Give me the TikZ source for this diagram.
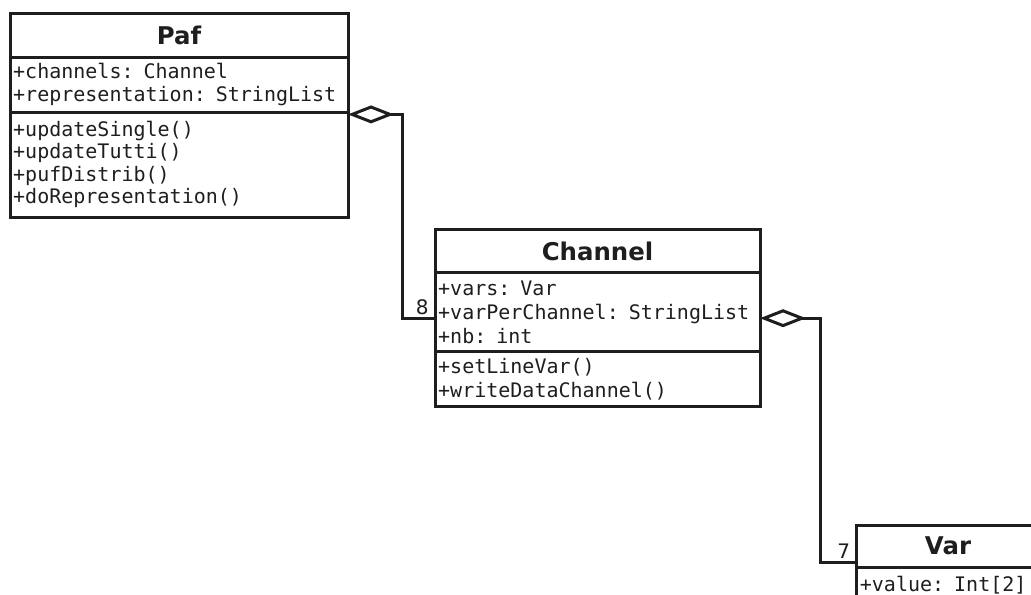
\documentclass[tikz,border=0pt]{standalone}
\usepackage{fontspec}
\usepackage{tikz}
\usetikzlibrary{arrows.meta,positioning}
\newfontfamily\umlsans{DejaVu Sans}
\newfontfamily\umlmono{DejaVu Sans Mono}
\definecolor{Ink}{HTML}{1E1E1E}

\begin{document}
\begin{tikzpicture}[x=0.5pt,y=-0.5pt,
  classhead/.style={draw=Ink,line width=1.5pt,outer sep=0pt,inner sep=0pt,text=Ink,font=\umlsans\bfseries\fontsize{12.2}{14}\selectfont},
  classbody/.style={draw=Ink,line width=1.5pt,outer sep=0pt,inner xsep=1.6pt,inner ysep=0pt,align=left,text=Ink,font=\umlmono\fontsize{10}{#1}\selectfont},
  classbody/.default=11.2,
  aggr/.style={draw=Ink,line width=1.5pt,{Diamond[open,length=23pt,width=9pt]}-},
  mult/.style={text=Ink,inner xsep=2.5pt,inner ysep=1pt,font=\umlsans\fontsize{10}{12}\selectfont}]
  \useasboundingbox (0,0) rectangle (1031,594);
  \clip (0,0) rectangle (1031,594);
  % Paf
  \node[classhead,minimum width=169pt,minimum height=21.85pt,anchor=north west] (pafhead) at (10,13.3) {Paf};
  \node[classbody,text width=165.8pt,minimum height=27.5pt,below=0pt of pafhead] (pafattr)
  {+channels: Channel\\+representation: StringList};
  \node[classbody,text width=165.8pt,minimum height=52.5pt,below=0pt of pafattr] (pafops)
  {+updateSingle()\\+updateTutti()\\+pufDistrib()\\+doRepresentation()};
  % Channel
  \node[classhead,minimum width=162.5pt,minimum height=21.7pt,anchor=north west] (chanhead) at (435,229.3) {Channel};
  \node[classbody=12,text width=159.3pt,minimum height=39.5pt,below=0pt of chanhead] (chanattr)
  {+vars: Var\\+varPerChannel: StringList\\+nb: int};
  \node[classbody=11.7,text width=159.3pt,minimum height=27.5pt,below=0pt of chanattr] (chanops)
  {+setLineVar()\\+writeDataChannel()};
  % Var
  \node[classhead,minimum width=91.3pt,minimum height=21.15pt,anchor=north west] (varhead) at (856.7,525) {Var};
  \node[classbody,text width=88.1pt,inner ysep=2.6pt,text height=9.3pt,text depth=20pt,below=0pt of varhead] (varattr)
  {+value: Int[2]};
  % aggregations
  \draw[aggr] ([yshift=-1.2pt]pafops.north east) -- ++(27pt,0) |- ([yshift=-3pt]chanattr.west)
    node[mult,pos=1,above left] (multchan) {8};
  \draw[aggr] ([yshift=-3pt]chanattr.east) -- ++(30pt,0) |- ([yshift=-8pt]varhead.west)
    node[mult,pos=1,above left] (multvar) {7};
\end{tikzpicture}
\end{document}
